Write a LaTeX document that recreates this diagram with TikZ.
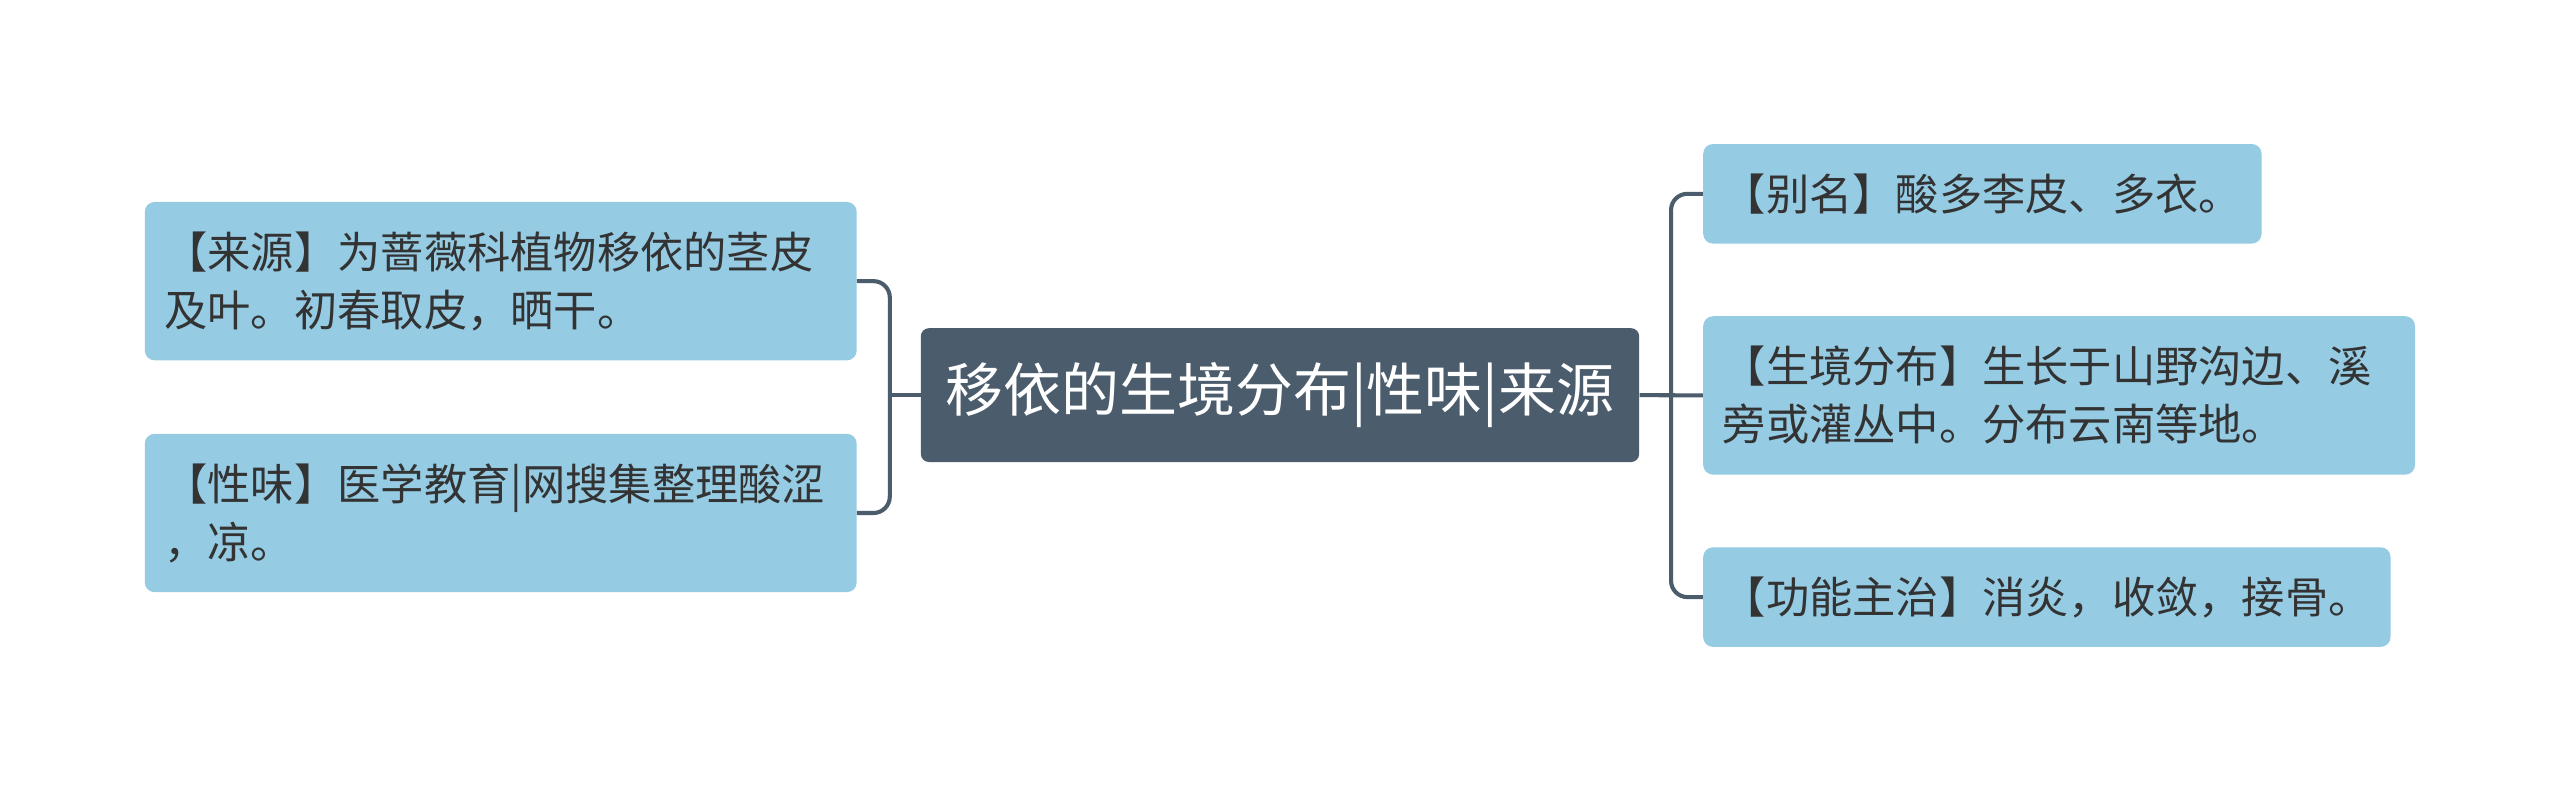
\documentclass[tikz,border=0pt]{standalone}
\usepackage{fontspec}
\usepackage{xcolor}
\usepackage{tikz}
\usetikzlibrary{positioning}
\newfontfamily\cjk{Noto Sans CJK SC}
\definecolor{rootgrey}{HTML}{4B5C6C}
\definecolor{leafblue}{HTML}{95CBE3}
\definecolor{leaftext}{HTML}{333333}
\tikzset{
  mm_node/.style = {inner xsep=12pt, inner ysep=0pt, font=\cjk},
  mm_root/.style = {mm_node, rectangle, rounded corners=5pt, fill=rootgrey,
    text=white, align=center, minimum width=440pt, minimum height=82pt,
    font=\cjk\fontsize{35.5}{42}\selectfont},% sujet central
  mm_leaf/.style = {mm_node, rectangle, rounded corners=6pt, fill=leafblue,
    text=leaftext, align=left, anchor=north west,
    font=\cjk\fontsize{26.5}{35.5}\selectfont},% branche
  mm_link/.style = {draw=rootgrey, line width=2.5pt, rounded corners=10pt}% lien
}

\begin{document}
\begin{tikzpicture}[x=1pt,y=-1pt]
\useasboundingbox (0,0) rectangle (1568,484.5);
\node [mm_root] (root) at (784,242) {移依的生境分布|性味|来源};

% left side
\node [mm_leaf, text width=412pt, minimum height=97pt] (src) at (88.5,123.5)
  {【来源】为蔷薇科植物移依的茎皮\\及叶。初春取皮，晒干。};
\node [mm_leaf, text width=412pt, minimum height=97pt] (taste) at (88.5,265.5)
  {【性味】医学教育|网搜集整理酸涩\\，凉。};

% right side
\node [mm_leaf, text width=318pt, minimum height=61pt] (alias) at (1043,88)
  {【别名】酸多李皮、多衣。};
\node [mm_leaf, text width=412pt, minimum height=97pt] (habitat) at (1043,193.5)
  {【生境分布】生长于山野沟边、溪\\旁或灌丛中。分布云南等地。};
\node [mm_leaf, text width=397pt, minimum height=61pt] (usage) at (1043,335)
  {【功能主治】消炎，收敛，接骨。};

\coordinate (jl) at (545,242);
\coordinate (jr) at (1023.5,242);

\draw [mm_link] (root.west) -- (jl);
\draw [mm_link] (jl) |- (src.east);
\draw [mm_link] (jl) |- (taste.east);
\draw [mm_link] (root.east) -- (habitat.west);
\draw [mm_link] (jr) |- (alias.west);
\draw [mm_link] (jr) |- (usage.west);
\end{tikzpicture}
\end{document}
